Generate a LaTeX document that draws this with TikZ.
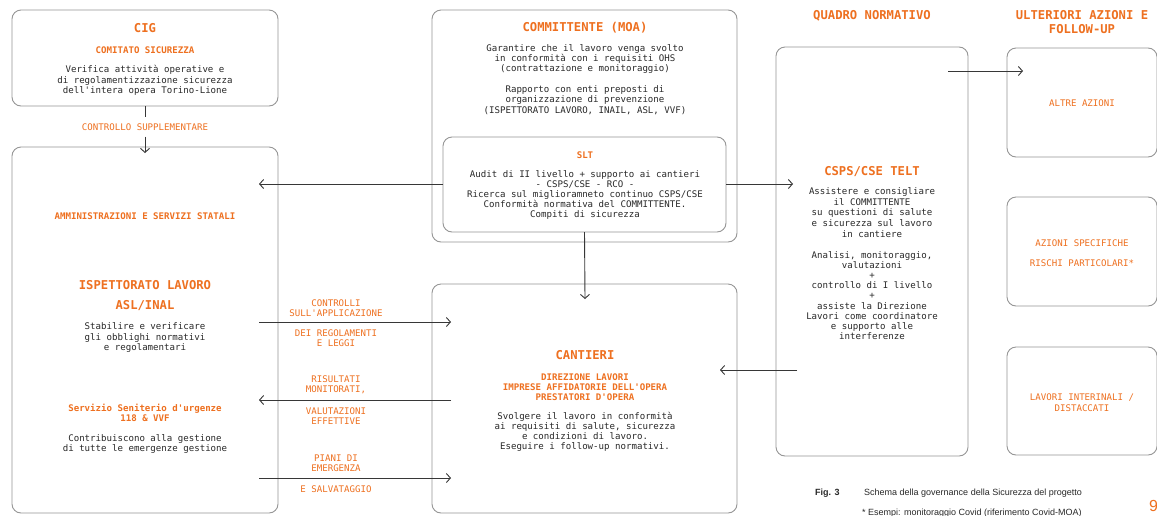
\documentclass[tikz,border=0pt]{standalone}
\usepackage{fontspec}
\setmainfont{Liberation Sans}
\newfontfamily\mono{DejaVu Sans Mono}
\usetikzlibrary{arrows.meta}
\definecolor{org}{RGB}{238,112,32}
\definecolor{boxc}{RGB}{150,150,150}
\definecolor{arrc}{RGB}{55,55,55}
\definecolor{txt}{RGB}{40,40,40}
\tikzset{
  box/.style={draw=boxc, line width=0.9pt, rounded corners=9pt, anchor=north west, outer sep=0pt, inner sep=0pt},
  body/.style={font=\mono\fontsize{9.1}{10.2}\selectfont, text=txt, align=center, inner sep=0pt},
  small/.style={font=\mono\bfseries\fontsize{9.1}{10.2}\selectfont, text=org, align=center, inner sep=0pt},
  big/.style={font=\mono\bfseries\fontsize{12.2}{14}\selectfont, text=org, align=center, inner sep=0pt},
  lbl/.style={font=\mono\fontsize{9.1}{10.2}\selectfont, text=org, align=center, inner sep=0pt},
  arr/.style={draw=arrc, line width=0.9pt, -{Straight Barb[length=4pt,width=9pt]}},
  ln/.style={draw=arrc, line width=0.9pt},
  captxt/.style={font=\fontsize{9}{11}\selectfont, text=txt, anchor=west, inner sep=0pt},
}
\begin{document}
\begin{tikzpicture}[x=1pt,y=-1pt]
\useasboundingbox[fill=white] (0,0) rectangle (1157,515);
% boxes
\node[box, minimum width=266, minimum height=96] (cig) at (12,10) {};
\node[box, minimum width=266, minimum height=366] (adm) at (12,147) {};
\node[box, minimum width=305, minimum height=232] (moa) at (432,10) {};
\node[box, minimum width=283, minimum height=95] (slt) at (443,137) {};
\node[box, minimum width=305, minimum height=229] (cant) at (432,284) {};
\node[box, minimum width=192, minimum height=409] (csps) at (776,47) {};
\node[box, minimum width=150, minimum height=109] (altre) at (1007,48) {};
\node[box, minimum width=150, minimum height=109] (spec) at (1007,197) {};
\node[box, minimum width=150, minimum height=108] (lav) at (1007,347) {};

% CIG
\node[big] (cigt) at (145,28) {CIG};
\node[small] (cigs) at (145,50) {COMITATO SICUREZZA};
\node[body] (cigb) at (145,80.5) {Verifica attività operative e\\di regolamentizzazione sicurezza\\dell'intera opera Torino-Lione};
\node[lbl, inner ysep=6pt] (ctrl) at (145,127) {CONTROLLO SUPPLEMENTARE};
\coordinate (ctrlend) at (145,153);
\draw[ln] (cig.south) -- (ctrl.north);
\draw[arr] (ctrl.south) -- (ctrlend);

% left box
\node[small] (amm) at (145,216) {AMMINISTRAZIONI E SERVIZI STATALI};
\node[big] (isp) at (145,285) {ISPETTORATO LAVORO};
\node[big] (asl) at (145,306) {ASL/INAL};
\node[body] (ispb) at (145,337.5) {Stabilire e verificare\\gli obblighi normativi\\e regolamentari};
\node[small, font=\mono\bfseries\fontsize{9.1}{10}\selectfont] (ssu) at (145,413) {Servizio Seniterio d'urgenze\\118 \& VVF};
\node[body] (ssub) at (145,444) {Contribuiscono alla gestione\\di tutte le emergenze gestione};

% committente
\node[big] (moat) at (585,28) {COMMITTENTE (MOA)};
\node[body] (moab1) at (585,59) {Garantire che il lavoro venga svolto\\in conformità con i requisiti OHS\\(contrattazione e monitoraggio)};
\node[body] (moab2) at (585,100) {Rapporto con enti preposti di\\organizzazione di prevenzione\\(ISPETTORATO LAVORO, INAIL, ASL, VVF)};
\node[small] (sltt) at (585,155) {SLT};
\node[body] (sltb) at (585,195) {Audit di II livello + supporto ai cantieri\\- CSPS/CSE - RCO -\\Ricerca sul miglioramneto continuo CSPS/CSE\\Conformità normativa del COMMITTENTE.\\Compiti di sicurezza};

% cantieri
\node[big] (cantt) at (585,355) {CANTIERI};
\node[small] (cants) at (585,387) {DIREZIONE LAVORI\\IMPRESE AFFIDATORIE DELL'OPERA\\PRESTATORI D'OPERA};
\node[body] (cantb) at (585,432) {Svolgere il lavoro in conformità\\ai requisiti di salute, sicurezza\\e condizioni di lavoro.\\Eseguire i follow-up normativi.};

% quadro normativo
\node[big] (qn) at (872,16) {QUADRO NORMATIVO};
\node[big] (cspst) at (872,172) {CSPS/CSE TELT};
\node[body, font=\mono\fontsize{9.1}{10.7}\selectfont] (cspsb1) at (872,212.5) {Assistere e consigliare\\il COMMITTENTE\\su questioni di salute\\e sicurezza sul lavoro\\in cantiere};
\node[body, font=\mono\fontsize{9.1}{10.1}\selectfont] (cspsb2) at (872,295.5) {Analisi, monitoraggio,\\valutazioni\\+\\controllo di I livello\\+\\assiste la Direzione\\Lavori come coordinatore\\e supporto alle\\interferenze};

% ulteriori azioni
\node[big] (ult) at (1082,22.5) {ULTERIORI AZIONI E\\FOLLOW-UP};
\node[lbl] (altret) at (1082,103) {ALTRE AZIONI};
\node[lbl, font=\mono\fontsize{9.1}{20}\selectfont] (spect) at (1082,253) {AZIONI SPECIFICHE\\RISCHI PARTICOLARI*};
\node[lbl, font=\mono\fontsize{9.1}{11}\selectfont] (lavt) at (1082,402.5) {LAVORI INTERINALI /\\DISTACCATI};

% connectors
\coordinate (sltL) at (259,184);
\coordinate (sltR) at (793,184);
\coordinate (sltD) at (585,299);
\draw[arr] (slt.west |- sltL) -- (sltL);
\draw[arr] (slt.east |- sltR) -- (sltR);
\draw[arr] (slt.south) -- (sltD);
\coordinate (qA) at (948,71);
\coordinate (qB) at (1023,71);
\draw[arr] (qA) -- (qB);
\coordinate (cA) at (797,370);
\coordinate (cB) at (720,370);
\draw[arr] (cA) -- (cB);

% middle arrows
\coordinate (m1a) at (259,322); \coordinate (m1b) at (451,322);
\coordinate (m2a) at (451,400); \coordinate (m2b) at (259,400);
\coordinate (m3a) at (259,478); \coordinate (m3b) at (451,478);
\draw[arr] (m1a) -- (m1b);
\draw[arr] (m2a) -- (m2b);
\draw[arr] (m3a) -- (m3b);
\node[lbl] (l1a) at (336,308) {CONTROLLI\\SULL'APPLICAZIONE};
\node[lbl] (l1b) at (336,338) {DEI REGOLAMENTI\\E LEGGI};
\node[lbl] (l2a) at (336,385) {RISULTATI\\MONITORATI,};
\node[lbl] (l2b) at (336,416) {VALUTAZIONI\\EFFETTIVE};
\node[lbl] (l3a) at (336,463) {PIANI DI\\EMERGENZA};
\node[lbl] (l3b) at (336,489) {E SALVATAGGIO};

% caption
\node[captxt, font=\bfseries\fontsize{9}{11}\selectfont] (fig) at (815,493) {Fig. 3};
\node[captxt] (figt) at (864,493) {Schema della governance della Sicurezza del progetto};
\node[captxt] (fign) at (862,513) {* Esempi: monitoraggio Covid (riferimento Covid-MOA)};
\node[captxt, text=org, font=\fontsize{16}{18}\selectfont] (pg) at (1149,506) {9};
\end{tikzpicture}
\end{document}
